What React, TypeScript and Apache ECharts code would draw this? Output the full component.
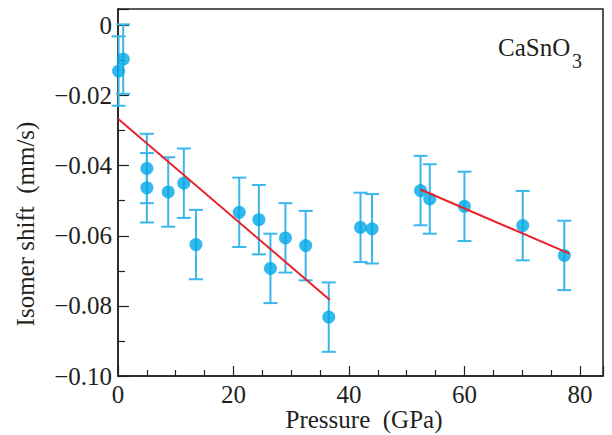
import React, { useEffect, useRef } from "react";
import * as echarts from "echarts";

const pressure = [0.1, 0.9, 5.0, 5.0, 8.7, 11.4, 13.5, 21.0, 24.4, 26.4, 29.0, 32.5, 36.5, 42.0, 44.0, 52.4, 54.0, 60.0, 70.1, 77.3];
const shift = [-0.0130, -0.0096, -0.0408, -0.0463, -0.0475, -0.0450, -0.0625, -0.0533, -0.0554, -0.0693, -0.0606, -0.0628, -0.0832, -0.0576, -0.0580, -0.0471, -0.0495, -0.0516, -0.0571, -0.0656];
const errors = [0.0099, 0.0099, 0.0099, 0.0099, 0.0099, 0.0099, 0.0099, 0.0099, 0.0099, 0.0099, 0.0099, 0.0099, 0.0099, 0.0099, 0.0099, 0.0099, 0.0099, 0.0099, 0.0099, 0.0099];
const fitLow = [[0, -0.0266], [36.7, -0.0783]];
const fitHigh = [[52.4, -0.0468], [78.2, -0.0651]];

const FONT = "Liberation Serif";
const INK = "#231f20";

export default function App() {
  const ref = useRef<HTMLDivElement>(null);
  useEffect(() => {
    if (!ref.current) return;
    const chart = echarts.init(ref.current, undefined, { renderer: "svg" });
    const points = pressure.map((p, i) => [p, shift[i]]);
    const errData = pressure.map((p, i) => [p, shift[i] - errors[i], shift[i] + errors[i]]);
    chart.setOption({
      animation: false,
      backgroundColor: "#ffffff",
      grid: { left: 118, top: 9, right: 9, bottom: 59, show: true, borderColor: INK, borderWidth: 1.5 },
      xAxis: {
        type: "value",
        min: 0,
        max: 84,
        interval: 20,
        splitLine: { show: false },
        axisLine: { onZero: false, lineStyle: { color: INK, width: 1.5 } },
        axisTick: { inside: true, length: 10, lineStyle: { color: INK, width: 1.2 } },
        minorTick: { show: true, splitNumber: 4, length: 6, lineStyle: { color: INK, width: 1.2 } },
        axisLabel: { color: INK, fontFamily: FONT, fontSize: 25, margin: 6, showMaxLabel: false },
      },
      yAxis: {
        type: "value",
        min: -0.1,
        max: 0.0047,
        interval: 0.02,
        splitLine: { show: false },
        axisLine: { onZero: false, lineStyle: { color: INK, width: 1.5 } },
        axisTick: { inside: true, length: 11, lineStyle: { color: INK, width: 1.2 } },
        minorTick: { show: true, splitNumber: 2, length: 7, lineStyle: { color: INK, width: 1.2 } },
        axisLabel: {
          color: INK,
          fontFamily: FONT,
          fontSize: 25,
          margin: 6,
          showMaxLabel: false,
          formatter: (v: number) => (Math.abs(v) < 1e-9 ? "0" : "\u2212" + Math.abs(v).toFixed(2)),
        },
      },
      series: [
        {
          type: "custom",
          z: 2,
          data: errData,
          renderItem: (params: any, api: any) => {
            const x = api.value(0);
            const lo = api.coord([x, api.value(1)]);
            const hi = api.coord([x, api.value(2)]);
            const w = 7;
            const style = { stroke: "#3ab7ea", lineWidth: 2 };
            return {
              type: "group",
              children: [
                { type: "line", shape: { x1: lo[0], y1: lo[1], x2: hi[0], y2: hi[1] }, style },
                { type: "line", shape: { x1: lo[0] - w, y1: lo[1], x2: lo[0] + w, y2: lo[1] }, style },
                { type: "line", shape: { x1: hi[0] - w, y1: hi[1], x2: hi[0] + w, y2: hi[1] }, style },
              ],
            };
          },
        },
        {
          type: "scatter",
          z: 3,
          data: points,
          symbol: "circle",
          symbolSize: 13,
          itemStyle: { color: "#00a8e6" },
        },
        {
          type: "line",
          z: 4,
          data: fitLow,
          symbol: "none",
          lineStyle: { color: "#e8232a", width: 2 },
        },
        {
          type: "line",
          z: 4,
          data: fitHigh,
          symbol: "none",
          lineStyle: { color: "#e8232a", width: 2 },
        },
      ],
      graphic: [
        {
          type: "text",
          left: 498,
          top: 35,
          style: { text: "CaSnO", fontFamily: FONT, fontSize: 25, fill: INK },
        },
        {
          type: "text",
          left: 572,
          top: 51,
          style: { text: "3", fontFamily: FONT, fontSize: 20, fill: INK },
        },
        {
          type: "text",
          x: 364,
          y: 419,
          style: { text: "Pressure  (GPa)", fontFamily: FONT, fontSize: 25, fill: INK, align: "center", verticalAlign: "middle" },
        },
        {
          type: "text",
          x: 25,
          y: 224,
          rotation: Math.PI / 2,
          style: { text: "Isomer shift  (mm/s)", fontFamily: FONT, fontSize: 25, fill: INK, align: "center", verticalAlign: "middle" },
        },
      ],
    });
    return () => chart.dispose();
  }, []);
  return <div ref={ref} style={{ width: 612, height: 435, position: "absolute", left: 0, top: 0 }} />;
}
